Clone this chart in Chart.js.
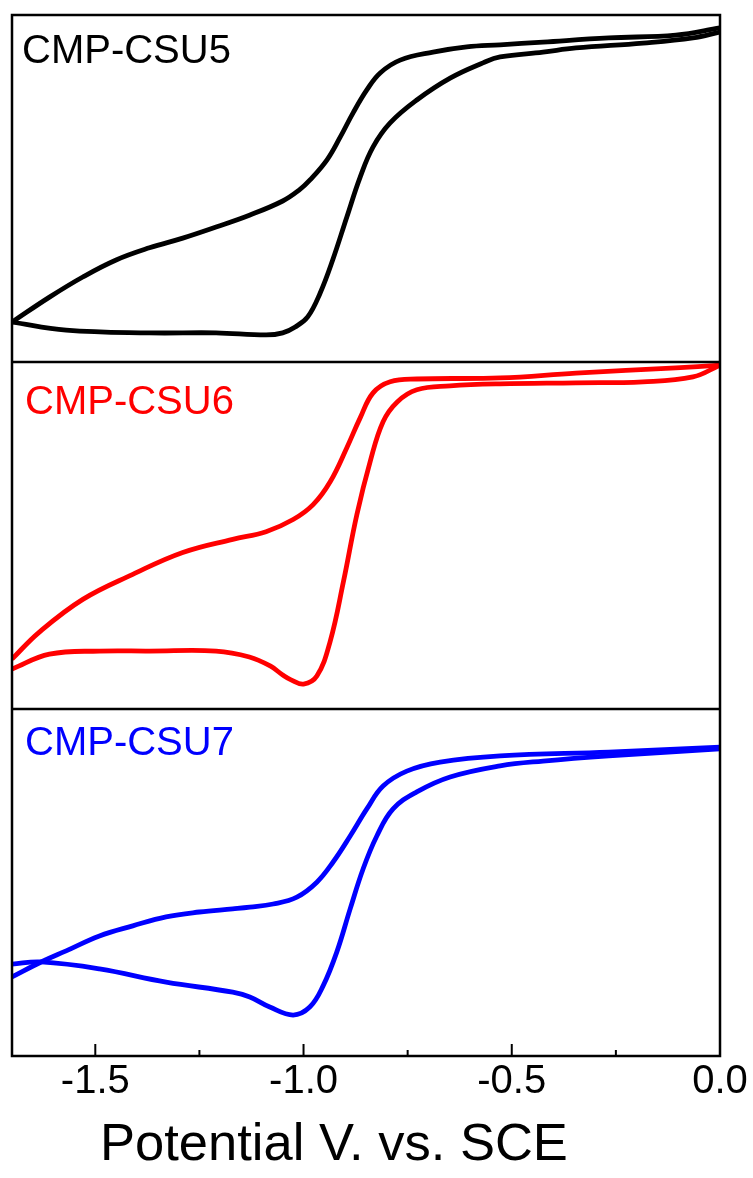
<!DOCTYPE html>
<html>
<head>
<meta charset="utf-8">
<script src="https://cdn.jsdelivr.net/npm/chart.js@4.4.1/dist/chart.umd.min.js"></script>
<style>
  html, body { margin: 0; padding: 0; background: #fff; }
  #wrap { position: relative; width: 753px; height: 1178px; }
  #cv { position: absolute; left: 0; top: 0; }
  #xtitle { position: absolute; left: 100px; top: 1116px; font: 52.5px "Liberation Sans", Arial, sans-serif; line-height: 1; white-space: nowrap; color: #000; }
</style>
</head>
<body>
<div id="wrap">
  <canvas id="cv" width="753" height="1178"></canvas>
  <div id="xtitle">Potential V. vs. SCE</div>
</div>
<script>
// axe x : potentiel (V vs. SCE)
const xTicks = [-1.5, -1.0, -0.5, 0.0];
const xMinor = [-1.25, -0.75, -0.25];

const panelNames = ['CMP-CSU5', 'CMP-CSU6', 'CMP-CSU7'];
const panelColors = ['#000000', '#ff0000', '#0000ff'];

// courant en unités arbitraires (0 = bas du panneau, 100 = haut)
// CMP-CSU5
const csu5UpperV = [-1.70, -1.61, -1.53, -1.45, -1.37, -1.29, -1.21, -1.13, -1.05, -1.01, -0.985, -0.944, -0.912, -0.881, -0.848, -0.816, -0.768, -0.689, -0.608, -0.528, -0.425, -0.267, -0.106, 0.00];
const csu5UpperI = [11.5, 18.7, 24.5, 29.4, 32.9, 35.7, 38.9, 42.3, 46.4, 49.6, 52.4, 58.2, 64.8, 71.8, 78.4, 83.3, 87.0, 89.3, 90.8, 91.4, 92.2, 93.4, 94.2, 96.3];
const csu5LowerV = [-1.70, -1.57, -1.37, -1.21, -1.09, -1.05, -1.02, -0.99, -0.96, -0.93, -0.896, -0.864, -0.833, -0.792, -0.728, -0.648, -0.569, -0.528, -0.425, -0.346, -0.185, -0.065, 0.00];
const csu5LowerI = [11.5, 9.2, 8.4, 8.4, 7.8, 8.4, 10.1, 13.0, 19.9, 29.4, 41.8, 53.3, 62.0, 68.9, 75.5, 81.8, 86.2, 87.9, 89.3, 90.5, 91.9, 93.4, 95.1];

// CMP-CSU6
const csu6UpperV = [-1.70, -1.635, -1.53, -1.41, -1.29, -1.17, -1.09, -1.025, -0.977, -0.936, -0.896, -0.864, -0.833, -0.792, -0.728, -0.528, -0.346, -0.106, 0.00];
const csu6UpperI = [14.4, 22.1, 31.6, 38.8, 45.1, 48.9, 51.1, 54.6, 58.9, 65.5, 75.3, 83.9, 91.1, 94.3, 95.1, 95.4, 96.8, 98.3, 99.1];
const csu6LowerV = [-1.70, -1.61, -1.49, -1.37, -1.21, -1.13, -1.08, -1.05, -1.03, -1.00, -0.968, -0.936, -0.904, -0.872, -0.840, -0.809, -0.775, -0.728, -0.648, -0.528, -0.346, -0.185, -0.065, 0.00];
const csu6LowerI = [11.5, 15.8, 16.7, 16.7, 16.7, 15.0, 12.4, 9.8, 8.4, 7.2, 9.5, 19.5, 36.8, 56.0, 71.3, 82.8, 88.5, 92.0, 93.1, 93.7, 94.0, 94.3, 95.7, 99.1];

// CMP-CSU7
const csu7UpperV = [-1.70, -1.63, -1.57, -1.49, -1.41, -1.33, -1.25, -1.17, -1.129, -1.073, -1.016, -0.968, -0.929, -0.888, -0.848, -0.809, -0.752, -0.672, -0.528, -0.267, 0.00];
const csu7UpperI = [22.8, 27.1, 30.3, 34.6, 37.5, 40.1, 41.5, 42.4, 42.9, 43.8, 45.8, 50.1, 55.9, 63.4, 71.2, 77.8, 82.1, 84.7, 86.5, 87.6, 89.0];
const csu7LowerV = [-1.70, -1.63, -1.49, -1.33, -1.17, -1.129, -1.081, -1.025, -0.985, -0.953, -0.920, -0.888, -0.857, -0.824, -0.785, -0.728, -0.648, -0.528, -0.425, -0.267, 0.00];
const csu7LowerI = [26.5, 27.1, 25.1, 21.3, 18.4, 17.0, 14.1, 11.8, 14.1, 20.2, 30.0, 42.4, 53.9, 63.4, 71.2, 76.1, 80.4, 83.6, 85.0, 86.5, 88.5];

const panelIds = ['y5', 'y6', 'y7'];
const labelDx = [10, 13, 13];
const labelDy = [48, 52, 46];

function pts(v, i) {
  return v.map((x, k) => ({ x: x, y: i[k] }));
}

function branch(v, i, k) {
  return {
    data: pts(v, i),
    borderColor: panelColors[k],
    borderWidth: 4.8,
    pointRadius: 0,
    showLine: true,
    fill: false,
    tension: 0.4,
    yAxisID: panelIds[k]
  };
}

// cadre, séparateurs, graduations intérieures et étiquettes des panneaux
const framePlugin = {
  id: 'frame',
  afterDatasetsDraw(chart) {
    const { ctx, chartArea: a, scales } = chart;
    ctx.save();
    ctx.strokeStyle = '#000';
    ctx.lineWidth = 2.5;
    ctx.strokeRect(a.left, a.top, a.right - a.left, a.bottom - a.top);
    ['y5', 'y6'].forEach(id => {
      const y = scales[id].bottom;
      ctx.beginPath();
      ctx.moveTo(a.left, y);
      ctx.lineTo(a.right, y);
      ctx.stroke();
    });
    ctx.lineWidth = 2;
    const tick = (v, len) => {
      const x = scales.x.getPixelForValue(v);
      ctx.beginPath();
      ctx.moveTo(x, a.bottom);
      ctx.lineTo(x, a.bottom - len);
      ctx.stroke();
    };
    xTicks.forEach(v => tick(v, 12));
    xMinor.forEach(v => tick(v, 6));

    ctx.font = '40px "Liberation Sans", Arial, sans-serif';
    ctx.textBaseline = 'alphabetic';
    ctx.textAlign = 'left';
    panelNames.forEach((name, k) => {
      ctx.fillStyle = panelColors[k];
      ctx.fillText(name, a.left + labelDx[k], scales[panelIds[k]].top + labelDy[k]);
    });
    ctx.restore();
  }
};

const yAxis = () => ({
  type: 'linear',
  min: 0,
  max: 100,
  display: false,
  position: 'left',
  stack: 'cv',
  stackWeight: 1
});

new Chart(document.getElementById('cv'), {
  type: 'scatter',
  data: {
    datasets: [
      branch(csu5UpperV, csu5UpperI, 0),
      branch(csu5LowerV, csu5LowerI, 0),
      branch(csu6UpperV, csu6UpperI, 1),
      branch(csu6LowerV, csu6LowerI, 1),
      branch(csu7UpperV, csu7UpperI, 2),
      branch(csu7LowerV, csu7LowerI, 2)
    ]
  },
  options: {
    responsive: false,
    animation: false,
    layout: { padding: { left: 12, right: 33, top: 15, bottom: 70 } },
    plugins: { legend: { display: false }, tooltip: { enabled: false } },
    scales: {
      x: {
        type: 'linear',
        min: -1.7,
        max: 0,
        afterBuildTicks: s => { s.ticks = xTicks.map(v => ({ value: v })); },
        grid: { display: false, drawTicks: false },
        border: { display: false },
        ticks: {
          color: '#000',
          padding: 2,
          maxRotation: 0,
          autoSkip: false,
          font: { family: '"Liberation Sans", Arial, sans-serif', size: 40 },
          callback: v => Number(v).toFixed(1)
        }
      },
      y7: yAxis(),
      y6: yAxis(),
      y5: yAxis()
    }
  },
  plugins: [framePlugin]
});
</script>
</body>
</html>
